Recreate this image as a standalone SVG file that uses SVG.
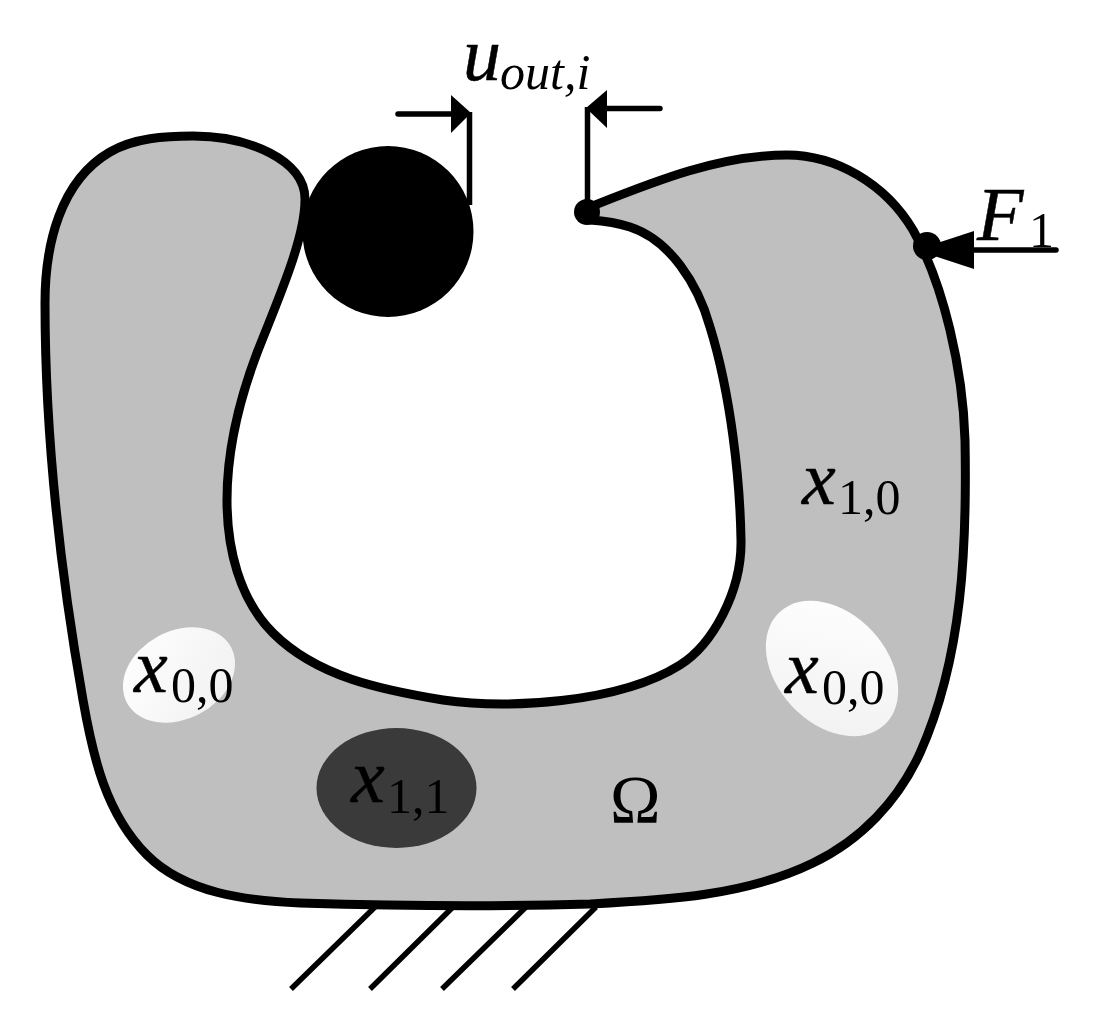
<svg xmlns="http://www.w3.org/2000/svg" width="1097" height="1023" viewBox="0 0 1097 1023">
<style>
text{font-family:"Liberation Serif","Times New Roman",serif;fill:#000}
.v{font-style:italic;font-size:76px;stroke:#000;stroke-width:.5}
.s{font-size:50px}
.si{font-style:italic;font-size:50px}
.l{stroke:#000;stroke-width:5.500;fill:none}
</style>
<defs><linearGradient id="g" x1="0" y1="0" x2="1" y2="1"><stop offset="0" stop-color="#fff"/><stop offset="1" stop-color="#f0f0f0"/></linearGradient></defs>
<rect width="1097" height="1023" fill="#fff"/>
<g id="body"><path d="M590 207C653 182 719 155 787 155C835 155 885 183 913 230C944 285 963 370 965 440C967 546 963 657 920 753C898 801 861 840 813 863C745 896 666 900 590 904C490 907 400 906 300 903C247 901 185 893 147 855C106 814 93 757 83 700C60 570 45 436 45 303C45 245 60 181 110 152C134 138 165 136 193 136C248 136 306 160 305 200C305 240 276 304 257 353C240 398 227 450 227 500C227 548 239 599 273 633C317 677 382 690 443 700C505 709 618 704 680 665C712 645 742 592 741 540C740 480 731 395 710 327C698 284 670 240 630 227C618 223 605 221 590 220Z" fill="#bfbfbf" stroke="#000" stroke-width="9" stroke-linejoin="round"/></g>
<g id="void-left"><ellipse cx="179" cy="675" rx="59" ry="44" transform="rotate(-28 179 675)" fill="url(#g)"/></g>
<g id="void-right"><ellipse cx="832" cy="668.500" rx="77" ry="55" transform="rotate(47 832 668.500)" fill="url(#g)"/></g>
<g id="solid"><ellipse cx="396.500" cy="788" rx="80" ry="60" fill="#3a3a3a"/></g>
<g id="roller"><circle cx="388" cy="231.500" r="85.500" fill="#000"/></g>
<g id="connectors">
<path class="l" d="M375 907L291 989M453 907L370 989M526 907L442 989M596 907L513 989"/>
<path class="l" d="M469.500 112V205M587.500 107V212"/>
<path class="l" stroke-linecap="round" d="M398 114H455M660 108.500H600M1056 250H970"/>
<path d="M451 95L471 113L451 133Z"/>
<path d="M607 90L586 108L607 128Z"/>
<path d="M974 231L916 250L974 269Z"/>
</g>
<g id="output-point"><circle cx="587" cy="212" r="13"/></g>
<g id="load-point"><circle cx="927" cy="246" r="14"/></g>
<g id="labels">
<text x="463" y="80" class="v">u</text><text x="500" y="89" class="si">out,i</text>
<text x="977" y="240" class="v">F</text><text x="1029" y="247" class="s">1</text>
<text x="802" y="504" class="v">x</text><text x="838" y="514" class="s">1,0</text>
<text x="134" y="692" class="v">x</text><text x="171" y="702" class="s">0,0</text>
<text x="785" y="693" class="v">x</text><text x="822" y="704" class="s">0,0</text>
<text x="351" y="802" class="v">x</text><text x="387" y="813" class="s">1,1</text>
<text x="610" y="822" font-size="68">Ω</text>
</g>
</svg>
